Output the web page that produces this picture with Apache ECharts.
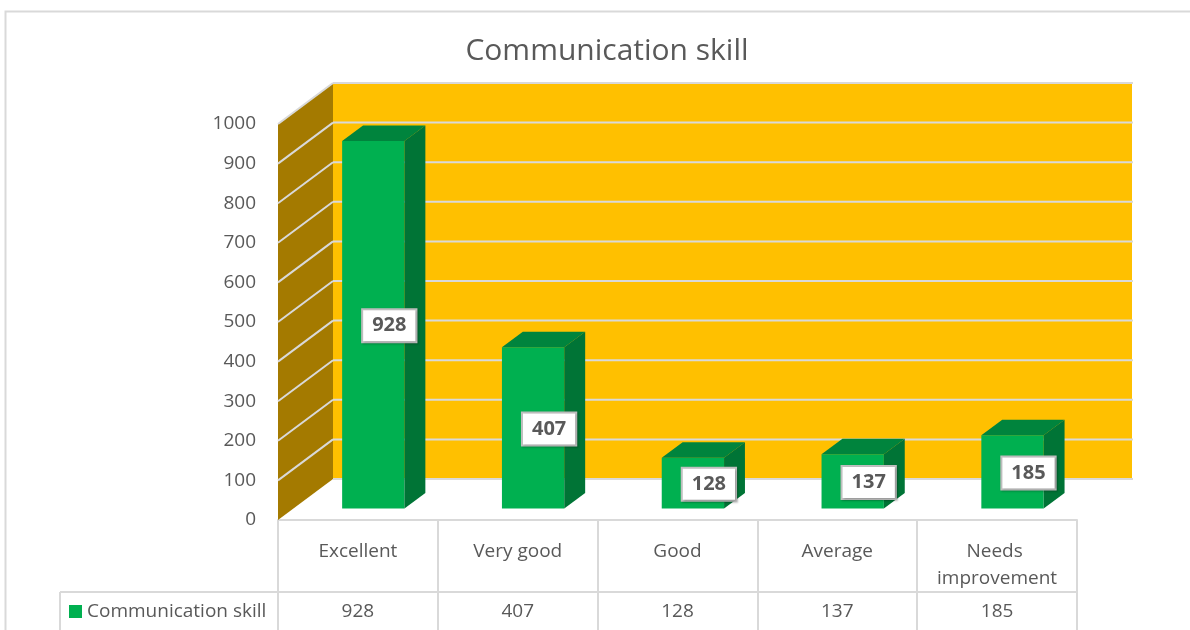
<!DOCTYPE html>
<html>
<head>
<meta charset="utf-8">
<script src="https://cdn.jsdelivr.net/npm/echarts@6/dist/echarts.min.js"></script>
<style>
html,body{margin:0;padding:0;background:#fff;}
#chart{width:1190px;height:630px;}
</style>
</head>
<body>
<div id="chart"></div>
<script>
// ---- data ----
const titleText = 'Communication skill';
const seriesName = 'Communication skill';
const categories = ['Excellent', 'Very good', 'Good', 'Average', 'Needs improvement'];
const values = [928, 407, 128, 137, 185];
const yTicks = [0, 100, 200, 300, 400, 500, 600, 700, 800, 900, 1000];

// ---- style ----
const TXT = '#595959';
const GRID = '#D9D9D9';
const FONT = 'Open Sans';
const DX = 55, DY = -41;            // 3D depth of the plot box
const BAR_F1 = 0.28, BAR_F2 = 0.66;  // bar depth position (fraction of box depth)
const BAR_W = 0.39;                 // bar width fraction of band

const chart = echarts.init(document.getElementById('chart'));

function frameRender(params, api) {
  const bw = api.size([1, 0])[0];
  const p0 = api.coord([0, yTicks[0]]);
  const left = p0[0] - bw / 2;
  const right = left + bw * categories.length;
  const yBot = p0[1];
  const yTop = api.coord([0, yTicks[yTicks.length - 1]])[1];
  const children = [];
  // back wall
  children.push({type: 'rect', shape: {x: left + DX, y: yTop + DY, width: right - left, height: yBot - yTop},
    style: {fill: '#FFC000'}});
  // side wall
  children.push({type: 'polygon', shape: {points: [[left, yTop], [left + DX, yTop + DY], [left + DX, yBot + DY], [left, yBot]]},
    style: {fill: '#A47A00'}});
  // gridlines
  yTicks.forEach(function (t) {
    const y = api.coord([0, t])[1];
    children.push({type: 'line', shape: {x1: left + DX, y1: y + DY, x2: right + DX + 1, y2: y + DY},
      style: {stroke: GRID, lineWidth: 2}});
    if (t !== 0) {
      children.push({type: 'line', shape: {x1: left, y1: y, x2: left + DX, y2: y + DY},
        style: {stroke: GRID, lineWidth: 2}});
    }
  });
  // data table: legend cell + value row line
  const rowY = yBot + 72;
  const legL = left - 218;
  children.push({type: 'line', shape: {x1: legL, y1: rowY, x2: right, y2: rowY}, style: {stroke: GRID, lineWidth: 2}});
  children.push({type: 'line', shape: {x1: legL, y1: rowY, x2: legL, y2: rowY + 60}, style: {stroke: GRID, lineWidth: 2}});
  return {type: 'group', children: children};
}

function barRender(params, api) {
  const idx = api.value(0);
  const v = api.value(1);
  const bw = api.size([1, 0])[0];
  const top = api.coord([idx, v]);
  const base = api.coord([idx, 0]);
  const w = bw * BAR_W;
  const ox = DX * BAR_F1, oy = DY * BAR_F1;
  const bdx = DX * (BAR_F2 - BAR_F1), bdy = DY * (BAR_F2 - BAR_F1);
  const xl = top[0] - w / 2 + ox, xr = top[0] + w / 2 + ox;
  const yt = top[1] + oy, yb = base[1] + oy;
  return {type: 'group', children: [
    {type: 'rect', shape: {x: xl, y: yt, width: xr - xl, height: yb - yt}, style: {fill: '#00B050'}},
    {type: 'polygon', shape: {points: [[xl, yt], [xr, yt], [xr + bdx, yt + bdy], [xl + bdx, yt + bdy]]}, style: {fill: '#00843D'}},
    {type: 'polygon', shape: {points: [[xr, yt], [xr + bdx, yt + bdy], [xr + bdx, yb + bdy], [xr, yb]]}, style: {fill: '#007436'}},
    {type: 'text', x: (xl + xr) / 2 + 16, y: (yt + yb) / 2 + 1,
      style: {text: String(v), fill: TXT, font: 'bold 20px "' + FONT + '"', align: 'center', verticalAlign: 'middle',
        backgroundColor: '#fff', borderColor: '#BFBFBF', borderWidth: 2, padding: [6, 9, 5, 9],
        shadowBlur: 2, shadowColor: 'rgba(0,0,0,0.25)', shadowOffsetX: 1, shadowOffsetY: 1}}
  ]};
}

const option = {
  animation: false,
  backgroundColor: '#fff',
  title: {
    text: titleText, left: 602, top: 31, textAlign: 'center',
    textStyle: {fontFamily: FONT, fontSize: 30, fontWeight: 'normal', color: TXT}
  },
  legend: {
    data: [seriesName], left: 64, top: 597, icon: 'rect', itemWidth: 13, itemHeight: 13,
    textStyle: {fontFamily: FONT, fontSize: 19, color: TXT}
  },
  graphic: [{type: 'rect', left: 3, top: 9, shape: {width: 1300, height: 800},
    style: {fill: 'none', stroke: GRID, lineWidth: 2}, silent: true, z: -10}],
  grid: {left: 278, right: 113, top: 124, bottom: 110},
  xAxis: [{
    type: 'category', data: categories, position: 'bottom',
    axisLine: {show: true, lineStyle: {color: GRID, width: 2}},
    axisTick: {show: true, length: 112, lineStyle: {color: GRID, width: 2}},
    axisLabel: {interval: 0, margin: 18, fontFamily: FONT, fontSize: 19, lineHeight: 27, color: TXT,
      width: 145, overflow: 'break', align: 'center'}
  }, {
    type: 'category', data: values.map(String), position: 'bottom',
    axisLine: {show: false}, axisTick: {show: false},
    axisLabel: {interval: 0, margin: 92, verticalAlign: 'middle', fontFamily: FONT, fontSize: 19, color: TXT}
  }],
  yAxis: {
    type: 'value', min: 0, max: 1000, interval: 100,
    axisLine: {show: false}, axisTick: {show: false}, splitLine: {show: false},
    axisLabel: {margin: 22, fontFamily: FONT, fontSize: 19, color: TXT, formatter: function (v) { return String(v); }}
  },
  series: [{
    type: 'custom', name: '_frame', silent: true, renderItem: frameRender, data: [[0, 0]], z: 1,
    encode: {x: 0, y: 1}
  }, {
    type: 'custom', name: seriesName, renderItem: barRender, z: 2,
    itemStyle: {color: '#00B050'},
    data: values.map(function (v, i) { return [i, v]; }),
    encode: {x: 0, y: 1}
  }]
};
chart.setOption(option);
</script>
</body>
</html>
